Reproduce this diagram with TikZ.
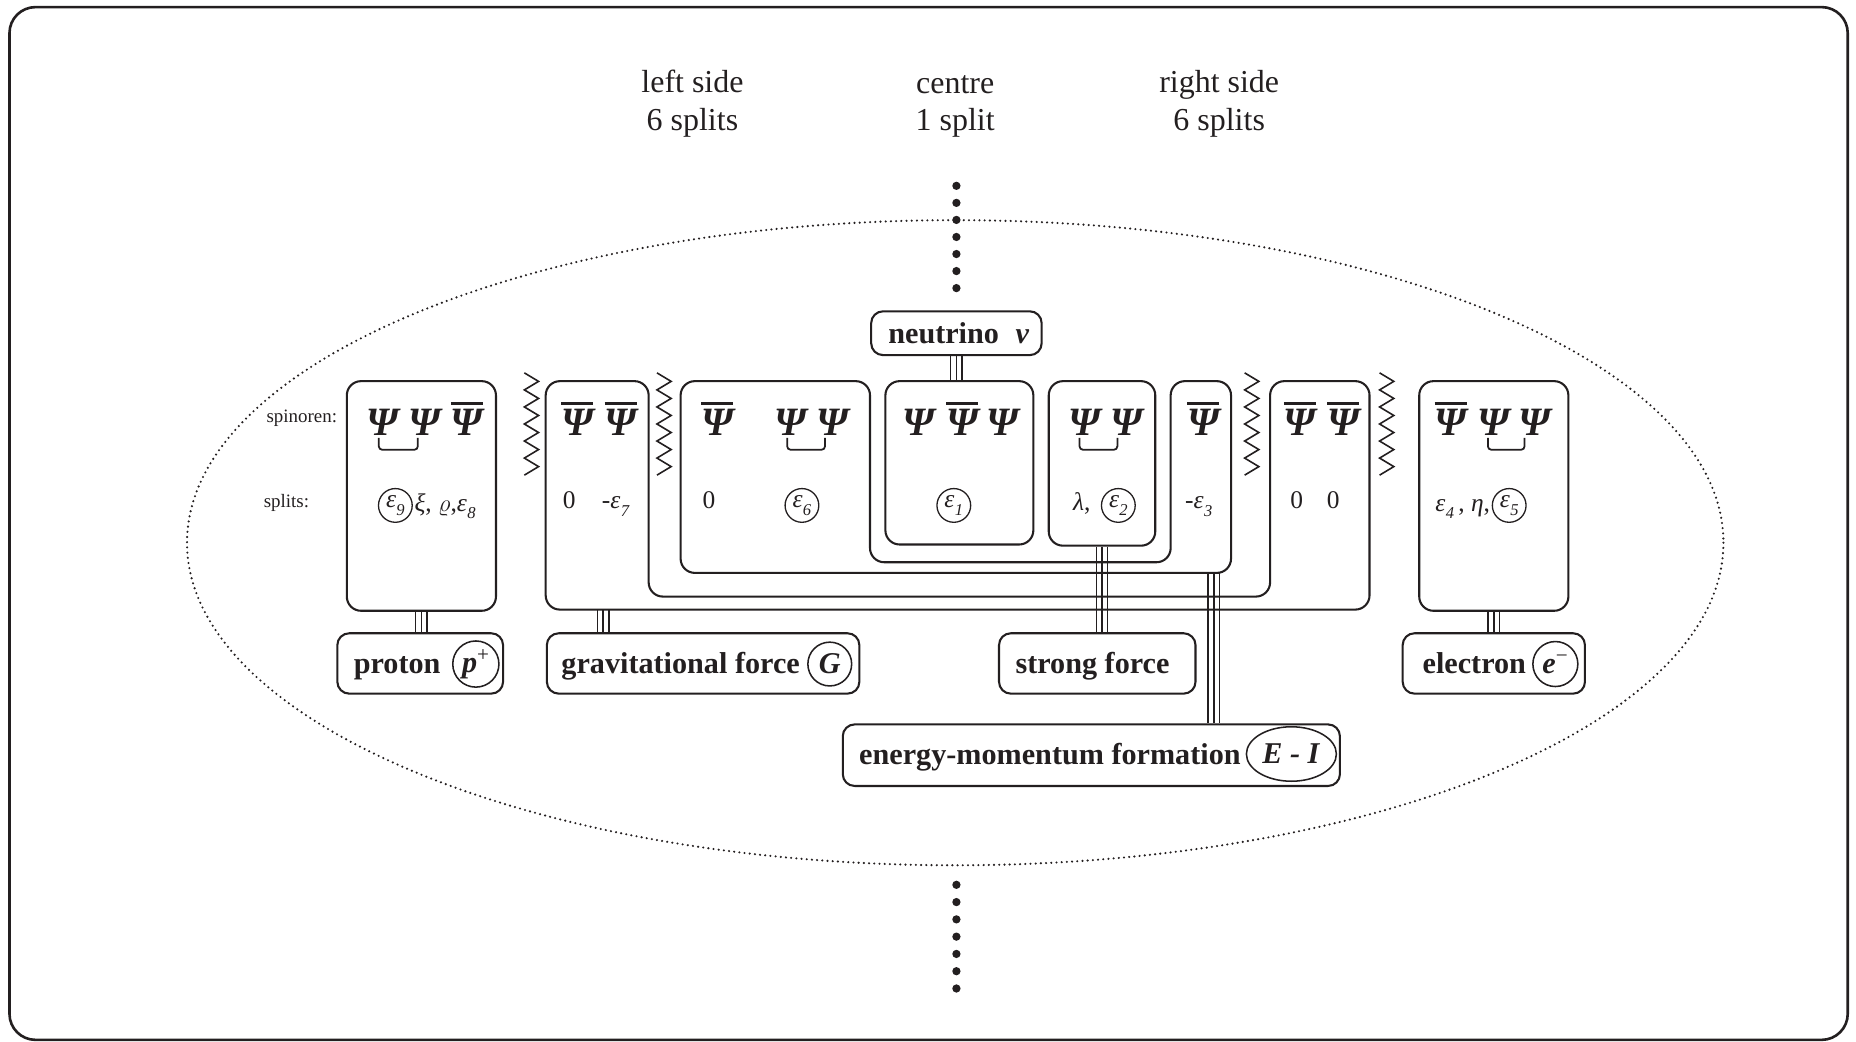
\documentclass[tikz,border=0pt]{standalone}
\usepackage{fontspec}
\setmainfont{Liberation Serif}
\usetikzlibrary{shapes.geometric}
\definecolor{ink}{RGB}{35,31,32}

% barred spinor: a rule over the glyph
\newcommand\Pb{\vbox{\hrule height 2.4pt\kern 3.6pt\hbox{Ψ}}}
% epsilon with a lowered index
\newcommand\eps[1]{ε\kern0.3pt\raisebox{-0.3em}{\fontsize{14}{14}\selectfont #1}}

\tikzset{
  headtxt/.style={font=\fontsize{27}{33}\selectfont, inner sep=0pt, anchor=base},
  lbltxt/.style={font=\fontsize{25.5}{30}\selectfont\bfseries, inner sep=0pt, anchor=base},
  psitxt/.style={font=\fontsize{34}{40}\selectfont\bfseries\itshape, inner sep=0pt, anchor=base},
  splittxt/.style={font=\fontsize{21.5}{25}\selectfont, inner sep=0pt, anchor=base},
  sidetxt/.style={font=\fontsize{16}{19}\selectfont, inner sep=0pt, anchor=base},
  cellline/.style={draw, line width=1.75pt, rounded corners=12pt},
  cellbox/.style={cellline, rectangle, inner sep=0pt},
  lblbox/.style={draw, rectangle, line width=1.75pt, rounded corners=10pt, minimum height=51pt, inner sep=0pt},
  ringnode/.style={draw, circle, line width=1.3pt, inner sep=0pt},
  epsring/.style={ringnode, line width=1.1pt, minimum size=28.5pt, font=\fontsize{21.5}{25}\selectfont\itshape},
  ovalnode/.style={draw, ellipse, line width=1.3pt, inner sep=0pt, minimum width=76pt, minimum height=46pt},
  conn/.style={line width=1.25pt},
  zz/.style={line width=1.35pt},
  brk/.style={line width=1.5pt, rounded corners=3pt},
  bigdot/.style={circle, fill, minimum size=7pt, inner sep=0pt},
  dotline/.style={line width=2pt, line cap=round, dash pattern=on 0pt off 4.4pt},
}

% three parallel lines between two points
\newcommand\tripleline[2]{\foreach \s in {-4.8,0,4.8}{\draw[conn] ([xshift=\s pt]#1) -- ([xshift=\s pt]#2);}}
% one spinor glyph
\newcommand\PS[3]{\node[psitxt] (#1) at (#2,368) {#3};}

\begin{document}
\begin{tikzpicture}[x=1pt, y=-1pt, color=ink]
\useasboundingbox (0,0) rectangle (1568,880);
\draw[line width=2.2pt, rounded corners=22pt] (8,6) rectangle (1561,878.5);

% headings
\node[headtxt] (hl1) at (585,78) {left side};
\node[headtxt] (hl2) at (585,110) {6 splits};
\node[headtxt] (hc1) at (807,79) {centre};
\node[headtxt] (hc2) at (807,110) {1 split};
\node[headtxt] (hr1) at (1030,78) {right side};
\node[headtxt] (hr2) at (1030,110) {6 splits};

% continuation dots
\foreach \i in {0,...,6}{
  \node[bigdot] (ud\i) at (808,{157+14.4*\i}) {};
  \node[bigdot] (ld\i) at (808,{747.5+14.6*\i}) {};
}

% dotted ellipse
\draw[dotline] (807,458.5) ellipse [x radius=649, y radius=272.5];

% row labels
\node[sidetxt] (lsp) at (255,357) {spinoren:};
\node[sidetxt] (lsl) at (242,429) {splits:};

% proton cell
\node[cellbox, minimum width=126pt, minimum height=194pt] (pb) at (356,419) {};
\PS{p1}{322.9}{Ψ}\PS{p2}{358.8}{Ψ}\PS{p3}{394.6}{\Pb}
\draw[brk] (320,370) -- (320,380) -- (353,380) -- (353,370);
\node[epsring] (c9) at (334,427) {\eps{9}};
\node[splittxt, anchor=base west] (pr) at (350,432) {\textit{ξ}, $\varrho$,\textit{\eps{8}}};

% gravitation cell (U shape)
\draw[cellline] (461,322) -- (548,322) -- (548,504) -- (1073,504) -- (1073,322)
  -- (1157,322) -- (1157,515) -- (461,515) -- cycle;
\coordinate (gS) at (509.5,515);
\PS{g1}{487.6}{\Pb}\PS{g2}{524.4}{\Pb}
\node[splittxt] (g0) at (481,430) {0};
\node[splittxt] (g7) at (520,430) {-\textit{\eps{7}}};
\PS{g3}{1098.3}{\Pb}\PS{g4}{1134.9}{\Pb}
\node[splittxt] (g0a) at (1095.4,430) {0};
\node[splittxt] (g0b) at (1126.4,430) {0};

% epsilon-6 cell (U shape)
\draw[cellline] (575,322) -- (735,322) -- (735,475) -- (989,475) -- (989,322)
  -- (1040,322) -- (1040,484) -- (575,484) -- cycle;
\coordinate (e3S) at (1025.5,484);
\PS{f1}{606}{\Pb}\PS{f2}{668.3}{Ψ}\PS{f3}{703.3}{Ψ}
\draw[brk] (665,370) -- (665,380) -- (697,380) -- (697,370);
\node[splittxt] (f0) at (599,430) {0};
\node[epsring] (c6) at (677.5,427) {\eps{6}};
\PS{f4}{1016.6}{\Pb}
\node[splittxt] (f3) at (1012.7,430) {-\textit{\eps{3}}};

% epsilon-1 cell
\node[cellbox, minimum width=125pt, minimum height=138pt] (e1) at (810.5,391) {};
\PS{n1}{775.7}{Ψ}\PS{n2}{812.9}{\Pb}\PS{n3}{846.8}{Ψ}
\node[epsring] (c1) at (805.8,427) {\eps{1}};

% epsilon-2 cell
\node[cellbox, minimum width=90pt, minimum height=139pt] (e2) at (931,391.5) {};
\PS{s1}{916.4}{Ψ}\PS{s2}{951.9}{Ψ}
\draw[brk] (912,370) -- (912,380) -- (944,380) -- (944,370);
\node[splittxt] (sl) at (914,431) {\textit{λ},};
\node[epsring] (c2) at (944.8,427) {\eps{2}};

% electron cell
\node[cellbox, minimum width=126pt, minimum height=194pt] (eb) at (1262,419) {};
\PS{r1}{1225.5}{\Pb}\PS{r2}{1261.6}{Ψ}\PS{r3}{1296.8}{Ψ}
\draw[brk] (1257,370) -- (1257,380) -- (1288,380) -- (1288,370);
\node[splittxt, anchor=base east] (rl) at (1259,432) {\textit{\eps{4}}\,, \textit{η},};
\node[epsring] (c5) at (1275,427) {\eps{5}};

% zigzag separators
\foreach \zx in {449,561,1057.5,1171.5}{
  \draw[zz] ({\zx-6},315) \foreach \k in {1,...,12}{ -- ({\zx-6+12*mod(\k,2)},{315+7.2*\k}) };
}

% particle and force labels
\node[lblbox, minimum width=144pt, minimum height=37pt] (nu) at (808,281.5) {};
\node[lbltxt] (nut) at (810,290) {neutrino\hspace{14pt}\textit{v}};

\node[lblbox, minimum width=140pt] (pn) at (355,560.5) {};
\node[lbltxt] (pt) at (335.5,569) {proton};
\node[ringnode, minimum size=39pt, font=\fontsize{25.5}{30}\selectfont] (pc) at (402,561) {\textbf{\textit{p}}\textsuperscript{+}};

\node[lblbox, minimum width=264pt] (gn) at (594,560.5) {};
\node[lbltxt] (gt) at (575,569) {gravitational force};
\node[ringnode, minimum size=37pt, font=\fontsize{25.5}{30}\selectfont] (gc) at (701,561) {\textbf{\textit{G}}};

\node[lblbox, minimum width=166pt] (sf) at (927,560.5) {};
\node[lbltxt] (st) at (923,569) {strong force};

\node[lblbox, minimum width=154pt] (en) at (1262,560.5) {};
\node[lbltxt] (et) at (1245.5,569) {electron};
\node[ringnode, minimum size=38pt, font=\fontsize{25.5}{30}\selectfont] (ec) at (1314,561) {\textbf{\textit{e}}\textsuperscript{−}};

\node[lblbox, minimum width=420pt, minimum height=52pt] (ei) at (922,638) {};
\node[lbltxt] (eit) at (887,646) {energy-momentum formation};
\node[ovalnode, font=\fontsize{25.5}{30}\selectfont] (eio) at (1091,637) {\textbf{\textit{E - I}}};

% triple connectors
\tripleline{nu.south}{nu.south |- e1.north}
\tripleline{pb.south}{pb.south |- pn.north}
\tripleline{gS}{gS |- gn.north}
\tripleline{e2.south}{e2.south |- sf.north}
\tripleline{e3S}{e3S |- ei.north}
\tripleline{eb.south}{eb.south |- en.north}
\end{tikzpicture}
\end{document}
